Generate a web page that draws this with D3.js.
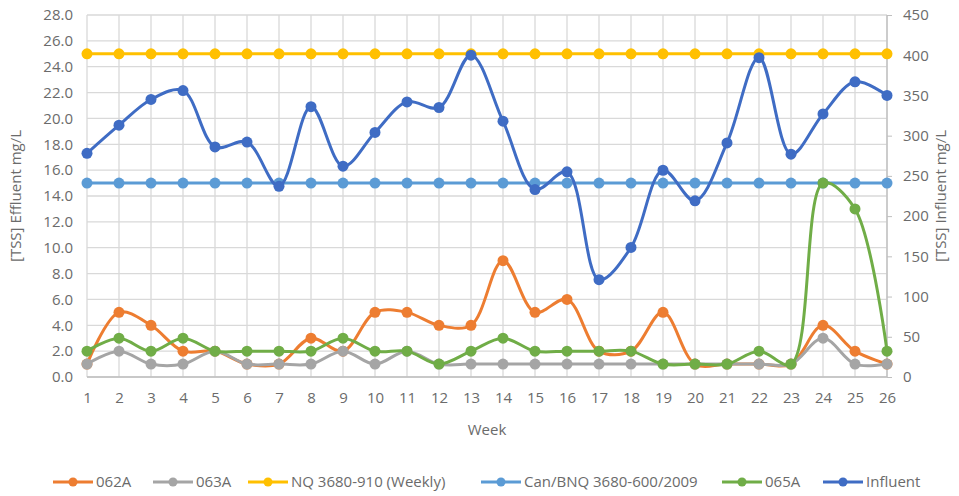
<!DOCTYPE html>
<html><head><meta charset="utf-8">
<script src="https://cdn.jsdelivr.net/npm/d3@7/dist/d3.min.js"></script>
<style>
body{margin:0;background:#fff;}
text{font-family:"Open Sans",sans-serif;fill:#6b6b6b;}
</style></head>
<body><svg id="c" width="959" height="496"></svg>
<script>
const weeks = d3.range(1, 27);
const s062A = [1,5,4,2,2,1,1,3,2,5,5,4,4,9,5,6,2,2,5,1,1,1,1,4,2,1];
const s063A = [1,2,1,1,2,1,1,1,2,1,2,1,1,1,1,1,1,1,1,1,1,1,1,3,1,1];
const sNQ = weeks.map(() => 25);
const sCan = weeks.map(() => 15);
const s065A = [2,3,2,3,2,2,2,2,3,2,2,1,2,3,2,2,2,2,1,1,1,2,1,15,13,2];
const sInfluent = [278,313,345,356,286,292,237,336,262,304,342,335,400,318,233,255,121,161,257,219,291,397,277,327,367,350];
const leftTicks = d3.range(0, 28.01, 2);
const rightTicks = d3.range(0, 451, 50);
const seriesNames = ["062A","063A","NQ 3680-910 (Weekly)","Can/BNQ 3680-600/2009","065A","Influent"];
const seriesColors = ["#ED7D31","#A5A5A5","#FFC000","#5B9BD5","#70AD47","#3F6CC4"];

const series = [
  {name: seriesNames[0], color: seriesColors[0], values: s062A, axis: "L"},
  {name: seriesNames[1], color: seriesColors[1], values: s063A, axis: "L"},
  {name: seriesNames[2], color: seriesColors[2], values: sNQ, axis: "L"},
  {name: seriesNames[3], color: seriesColors[3], values: sCan, axis: "L"},
  {name: seriesNames[4], color: seriesColors[4], values: s065A, axis: "L"},
  {name: seriesNames[5], color: seriesColors[5], values: sInfluent, axis: "R"}
];

const svg = d3.select("#c");
const x = d3.scalePoint().domain(weeks).range([87, 887]);
const yL = d3.scaleLinear().domain([0, 28]).range([377, 15]);
const yR = d3.scaleLinear().domain([0, 450]).range([377, 15]);

// gridlines
const g = svg.append("g");
g.selectAll(".hg").data(leftTicks).join("line")
  .attr("x1", 87).attr("x2", 887).attr("y1", d => yL(d)).attr("y2", d => yL(d))
  .attr("stroke", "#d9d9d9").attr("stroke-width", 1.3);
g.selectAll(".vg").data(weeks).join("line")
  .attr("x1", d => x(d)).attr("x2", d => x(d)).attr("y1", 15).attr("y2", 377)
  .attr("stroke", "#d9d9d9").attr("stroke-width", 1.3);
g.append("line").attr("x1", 87).attr("x2", 887).attr("y1", 377).attr("y2", 377).attr("stroke", "#bfbfbf").attr("stroke-width", 1.3);
g.append("line").attr("x1", 887).attr("x2", 887).attr("y1", 15).attr("y2", 377).attr("stroke", "#bfbfbf").attr("stroke-width", 1.3);

// axes
const axL = svg.append("g").attr("transform", "translate(87,0)")
  .call(d3.axisLeft(yL).tickValues(leftTicks).tickFormat(d3.format(".1f")).tickSize(0).tickPadding(14));
const axR = svg.append("g").attr("transform", "translate(887,0)")
  .call(d3.axisRight(yR).tickValues(rightTicks).tickSize(5).tickPadding(11));
const axB = svg.append("g").attr("transform", "translate(0,377)")
  .call(d3.axisBottom(x).tickSize(0).tickPadding(15));
[axL, axR, axB].forEach(a => {
  a.select(".domain").remove();
  a.selectAll("text").style("font-size", "15px").attr("fill", "#6b6b6b");
  a.selectAll("line").attr("stroke", "#bfbfbf");
});

// titles
svg.append("text").attr("transform", "translate(21,196) rotate(-90)").attr("text-anchor", "middle")
  .style("font-size", "15px").text("[TSS] Effluent mg/L");
svg.append("text").attr("transform", "translate(946,196) rotate(-90)").attr("text-anchor", "middle")
  .style("font-size", "15px").text("[TSS] Influent mg/L");
svg.append("text").attr("x", 487).attr("y", 435).attr("text-anchor", "middle")
  .style("font-size", "15px").text("Week");

// series
const curve = d3.curveCatmullRom.alpha(0.5);
series.forEach(s => {
  const y = s.axis === "L" ? yL : yR;
  const line = d3.line().x((d, i) => x(weeks[i])).y(d => y(d)).curve(curve);
  const sg = svg.append("g");
  sg.append("path").datum(s.values).attr("d", line).attr("fill", "none")
    .attr("stroke", s.color).attr("stroke-width", 3).attr("stroke-linejoin", "round");
  sg.selectAll("circle").data(s.values).join("circle")
    .attr("cx", (d, i) => x(weeks[i])).attr("cy", d => y(d)).attr("r", 5.5).attr("fill", s.color);
});

// legend
const lg = svg.append("g");
const legendStarts = [53, 153, 248, 481, 722, 823];
const ly = 482;
series.forEach((s, i) => {
  const lx = legendStarts[i];
  lg.append("line").attr("x1", lx).attr("x2", lx + 40).attr("y1", ly).attr("y2", ly)
    .attr("stroke", s.color).attr("stroke-width", 3);
  lg.append("circle").attr("cx", lx + 20).attr("cy", ly).attr("r", 4.5).attr("fill", s.color);
  lg.append("text").attr("x", lx + 43).attr("y", ly + 5).style("font-size", "15px").text(s.name);
});
</script></body></html>
